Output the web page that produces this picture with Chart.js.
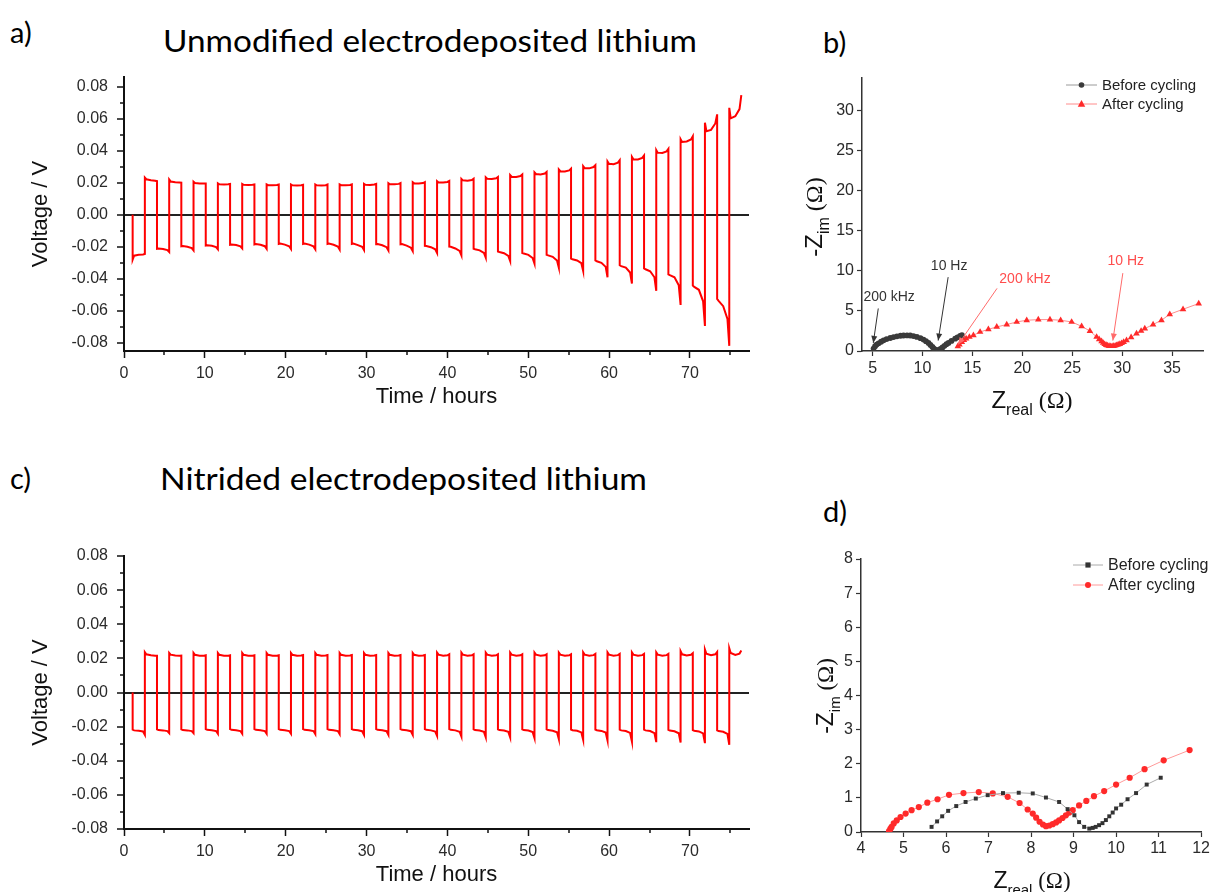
<!DOCTYPE html>
<html>
<head>
<meta charset="utf-8">
<script src="https://cdn.jsdelivr.net/npm/chart.js@4.4.1/dist/chart.umd.min.js"></script>
<style>
html,body{margin:0;padding:0;background:#fff;overflow:hidden;width:1212px;height:892px;}
canvas{position:absolute;}
.lbl{position:absolute;font-family:Lato,'Open Sans',sans-serif;color:#000;white-space:nowrap;transform-origin:0 50%;line-height:1;}
</style>
</head>
<body>
<div class="lbl" style="left:10px;top:17px;font-size:29px;">a)</div>
<div class="lbl" id="ta" style="left:163px;top:25px;font-size:30px;">Unmodified electrodeposited lithium</div>
<div class="lbl" style="left:823px;top:27px;font-size:29px;">b)</div>
<div class="lbl" style="left:10px;top:463px;font-size:29px;">c)</div>
<div class="lbl" id="tc" style="left:160px;top:463px;font-size:30px;">Nitrided electrodeposited lithium</div>
<div class="lbl" style="left:823px;top:496px;font-size:29px;">d)</div>
<canvas id="ca" width="790" height="420" style="left:0;top:0"></canvas>
<canvas id="cb" width="417" height="430" style="left:795px;top:0"></canvas>
<canvas id="cc" width="790" height="422" style="left:0;top:470px"></canvas>
<canvas id="cd" width="417" height="422" style="left:795px;top:470px"></canvas>
<script>
// ---------------- DATA ----------------
// switching times of the galvanostatic half-cycles (hours), last entry = end of record
const switchTimes = [1.07,2.58,4.08,5.59,7.09,8.60,10.11,11.61,13.12,14.62,16.13,17.64,19.14,20.65,22.15,23.66,25.17,26.67,28.18,29.68,31.19,32.70,34.20,35.71,37.21,38.72,40.23,41.73,43.24,44.74,46.25,47.76,49.26,50.77,52.27,53.78,55.29,56.79,58.30,59.80,61.31,62.82,64.32,65.83,67.33,68.84,70.35,71.85,73.36,74.86,76.35];
// voltage read at 0, 12, 50, 85 and 100 % of each half-cycle (V)
const SAMPLE_FRACTIONS = [0, 0.12, 0.5, 0.85, 1.0];
const unmodifiedNeg = [
 [-0.028,-0.0255,-0.025,-0.0248,-0.0245],
 [-0.0212,-0.021,-0.0213,-0.022,-0.0232],
 [-0.0197,-0.0195,-0.0199,-0.0208,-0.0222],
 [-0.0192,-0.019,-0.0193,-0.0201,-0.0215],
 [-0.0187,-0.0185,-0.0189,-0.0197,-0.021],
 [-0.0185,-0.0183,-0.0187,-0.0196,-0.0212],
 [-0.0182,-0.018,-0.0186,-0.0196,-0.0213],
 [-0.0182,-0.018,-0.0186,-0.0197,-0.0215],
 [-0.0182,-0.018,-0.0187,-0.0198,-0.0217],
 [-0.0182,-0.018,-0.0189,-0.02,-0.022],
 [-0.0183,-0.0182,-0.019,-0.0202,-0.0222],
 [-0.0184,-0.0183,-0.0192,-0.0205,-0.0226],
 [-0.0194,-0.0195,-0.0202,-0.0215,-0.0238],
 [-0.0199,-0.02,-0.021,-0.0225,-0.0253],
 [-0.0212,-0.0215,-0.0222,-0.0238,-0.0267],
 [-0.0229,-0.0232,-0.024,-0.0256,-0.0288],
 [-0.0239,-0.0242,-0.025,-0.027,-0.0304],
 [-0.025,-0.0253,-0.0262,-0.0285,-0.033],
 [-0.0273,-0.0278,-0.0285,-0.0302,-0.035],
 [-0.0285,-0.029,-0.03,-0.0325,-0.039],
 [-0.0315,-0.032,-0.033,-0.036,-0.0429],
 [-0.0335,-0.034,-0.0352,-0.039,-0.0474],
 [-0.0372,-0.0377,-0.039,-0.044,-0.0563],
 [-0.0442,-0.045,-0.0468,-0.054,-0.0694],
 [-0.0525,-0.0537,-0.057,-0.065,-0.0818]
];
const unmodifiedPos = [
 [0.0232,0.0222,0.0216,0.0212,0.021],
 [0.022,0.0208,0.0203,0.0201,0.02],
 [0.0206,0.0198,0.0196,0.0195,0.0195],
 [0.0196,0.019,0.0189,0.019,0.0192],
 [0.0192,0.0187,0.0186,0.0188,0.019],
 [0.019,0.0185,0.0184,0.0186,0.0189],
 [0.0189,0.0184,0.0183,0.0185,0.0188],
 [0.0189,0.0184,0.0183,0.0185,0.0189],
 [0.019,0.0185,0.0184,0.0186,0.019],
 [0.0193,0.0187,0.0186,0.0189,0.0193],
 [0.0197,0.019,0.019,0.0193,0.0198],
 [0.0203,0.0196,0.0195,0.0198,0.0204],
 [0.021,0.0202,0.0201,0.0205,0.0211],
 [0.0224,0.0215,0.0213,0.0217,0.0225],
 [0.0234,0.0225,0.0223,0.0228,0.0236],
 [0.0248,0.0238,0.0236,0.0242,0.0252],
 [0.0265,0.0255,0.0252,0.0258,0.0268],
 [0.0283,0.0272,0.027,0.0277,0.0288],
 [0.0304,0.0292,0.029,0.0298,0.031],
 [0.0333,0.0318,0.0316,0.0325,0.034],
 [0.0362,0.0347,0.0345,0.0355,0.037],
 [0.0404,0.0388,0.0386,0.0396,0.0412],
 [0.0472,0.0455,0.0458,0.047,0.049],
 [0.0575,0.0522,0.053,0.057,0.0627],
 [0.0668,0.0602,0.0615,0.066,0.0747]
];
const nitridedNeg = [
 [-0.0218,-0.0222,-0.0224,-0.0228,-0.0248],
 [-0.0216,-0.022,-0.0222,-0.0226,-0.0238],
 [-0.0216,-0.022,-0.0222,-0.0226,-0.0238],
 [-0.0215,-0.0219,-0.0221,-0.0226,-0.0242],
 [-0.0215,-0.0219,-0.0221,-0.0226,-0.0242],
 [-0.0215,-0.0219,-0.0221,-0.0226,-0.0242],
 [-0.0215,-0.0219,-0.0221,-0.0226,-0.0242],
 [-0.0215,-0.0219,-0.0221,-0.0226,-0.0244],
 [-0.0215,-0.0219,-0.0221,-0.0226,-0.0244],
 [-0.0215,-0.0219,-0.0221,-0.0227,-0.0248],
 [-0.0215,-0.0219,-0.0221,-0.0227,-0.0248],
 [-0.0215,-0.0219,-0.0221,-0.0227,-0.0248],
 [-0.0215,-0.0219,-0.0222,-0.0229,-0.0254],
 [-0.0215,-0.0219,-0.0222,-0.023,-0.0258],
 [-0.0216,-0.022,-0.0223,-0.0231,-0.0262],
 [-0.0216,-0.022,-0.0223,-0.0231,-0.0263],
 [-0.0216,-0.022,-0.0223,-0.0232,-0.0267],
 [-0.0216,-0.022,-0.0224,-0.0233,-0.0273],
 [-0.0217,-0.0221,-0.0224,-0.0234,-0.0277],
 [-0.0217,-0.0221,-0.0225,-0.0235,-0.0281],
 [-0.0218,-0.0222,-0.0226,-0.0237,-0.0287],
 [-0.0218,-0.0222,-0.0226,-0.0238,-0.0291],
 [-0.0219,-0.0223,-0.0227,-0.0239,-0.0293],
 [-0.022,-0.0224,-0.0228,-0.024,-0.0297],
 [-0.0222,-0.0226,-0.023,-0.0243,-0.0306]
];
const nitridedPos = [
 [0.0236,0.0224,0.0218,0.0216,0.0216],
 [0.0232,0.0222,0.0217,0.0216,0.0217],
 [0.0232,0.0221,0.0216,0.0216,0.0218],
 [0.0232,0.0221,0.0216,0.0216,0.0218],
 [0.0232,0.0221,0.0216,0.0216,0.0218],
 [0.0232,0.0221,0.0216,0.0216,0.0218],
 [0.0232,0.0221,0.0216,0.0217,0.022],
 [0.0232,0.0221,0.0216,0.0217,0.022],
 [0.0232,0.0221,0.0216,0.0217,0.022],
 [0.0232,0.0221,0.0216,0.0217,0.022],
 [0.0232,0.0221,0.0216,0.0217,0.022],
 [0.0232,0.0221,0.0216,0.0217,0.022],
 [0.0234,0.0222,0.0216,0.0218,0.0224],
 [0.0234,0.0222,0.0216,0.0218,0.0224],
 [0.0234,0.0222,0.0216,0.0218,0.0224],
 [0.0234,0.0222,0.0216,0.0218,0.0224],
 [0.0234,0.0222,0.0216,0.0218,0.0224],
 [0.0234,0.0222,0.0216,0.0218,0.0224],
 [0.0235,0.0222,0.0216,0.0219,0.0226],
 [0.0235,0.0222,0.0216,0.0219,0.0226],
 [0.0235,0.0222,0.0216,0.0219,0.0226],
 [0.0235,0.0222,0.0216,0.0219,0.0226],
 [0.0242,0.0224,0.0217,0.0221,0.023],
 [0.0252,0.0227,0.0218,0.0224,0.0238],
 [0.026,0.0232,0.022,0.0228,0.0246]
];
// EIS, unmodified (panel b)
const bBeforeRe = [5.1,5.25,5.4,5.6,5.85,6.1,6.4,6.77,7.1,7.44,7.8,8.1,8.45,8.77,9.1,9.44,9.8,10.1,10.35,10.6,10.8,11.0,11.15,11.3,11.45,11.6,11.8,12.0,12.2,12.4,12.6,12.9,13.27,13.5,13.77,13.95];
const bBeforeIm = [0.3,0.6,0.8,0.95,1.15,1.33,1.48,1.62,1.73,1.83,1.9,1.93,1.94,1.93,1.86,1.75,1.6,1.42,1.22,1.0,0.75,0.5,0.3,0.15,0.1,0.12,0.25,0.45,0.65,0.85,1.0,1.25,1.54,1.7,1.87,1.97];
const bAfterRe = [13.54,13.7,13.94,14.15,14.37,14.7,15.1,15.77,16.6,17.44,18.44,19.44,20.44,21.6,22.77,23.84,24.94,25.94,26.77,27.44,27.7,27.94,28.1,28.25,28.4,28.55,28.7,28.85,29.0,29.15,29.3,29.45,29.6,29.77,29.95,30.15,30.44,30.9,31.44,31.9,32.27,33.1,33.94,34.77,36.1,37.67];
const bAfterIm = [0.59,0.8,1.12,1.35,1.54,1.75,1.96,2.37,2.7,3.0,3.29,3.62,3.83,3.91,3.91,3.83,3.62,3.08,2.49,1.75,1.45,1.2,1.0,0.85,0.75,0.67,0.62,0.6,0.6,0.62,0.66,0.72,0.79,0.87,0.97,1.1,1.33,1.7,2.17,2.5,2.79,3.3,3.83,4.58,5.2,5.91];
// EIS, nitrided (panel d)
const dBeforeRe = [5.66,5.79,5.91,6.05,6.24,6.46,6.70,6.98,7.34,7.71,8.04,8.35,8.66,8.86,9.02,9.13,9.25,9.37,9.45,9.52,9.6,9.68,9.76,9.84,9.92,10.0,10.12,10.27,10.47,10.72,11.05];
const dBeforeIm = [0.15,0.31,0.46,0.62,0.76,0.88,0.98,1.08,1.14,1.15,1.13,1.01,0.88,0.67,0.49,0.29,0.15,0.10,0.12,0.15,0.2,0.26,0.35,0.46,0.57,0.69,0.8,0.96,1.14,1.39,1.59];
const dAfterRe = [4.66,4.69,4.72,4.77,4.84,4.93,5.05,5.19,5.36,5.56,5.80,6.07,6.41,6.77,7.10,7.45,7.73,7.92,8.04,8.12,8.2,8.28,8.35,8.43,8.51,8.59,8.66,8.74,8.82,8.9,8.98,9.13,9.30,9.48,9.72,10.0,10.32,10.67,11.12,11.73];
const dAfterIm = [0.03,0.09,0.15,0.25,0.34,0.44,0.54,0.64,0.73,0.86,0.96,1.09,1.14,1.17,1.13,1.03,0.85,0.66,0.54,0.42,0.3,0.22,0.17,0.19,0.23,0.28,0.34,0.41,0.49,0.57,0.64,0.78,0.91,1.05,1.20,1.39,1.59,1.84,2.10,2.40];
// ticks
const timeTicks = [0,10,20,30,40,50,60,70];
const timeMinorTicks = [5,15,25,35,45,55,65,75];
const voltTicks = [-0.08,-0.06,-0.04,-0.02,0,0.02,0.04,0.06,0.08];
const voltTickLabels = ['-0.08','-0.06','-0.04','-0.02','0.00','0.02','0.04','0.06','0.08'];
const voltMinorTicks = [-0.07,-0.05,-0.03,-0.01,0.01,0.03,0.05,0.07];
const bReTicks = [5,10,15,20,25,30,35];
const bImTicks = [0,5,10,15,20,25,30];
const dReTicks = [4,5,6,7,8,9,10,11,12];
const dImTicks = [0,1,2,3,4,5,6,7,8];
const seriesNames = ['Before cycling','After cycling'];
const freqLabels = ['200 kHz','10 Hz'];

// ---------------- HELPERS ----------------
const SANS = "'Liberation Sans', Arial, sans-serif";
const SERIF = "'Liberation Serif', 'Times New Roman', serif";
Chart.defaults.font.family = SANS;

function buildWave(times, neg, pos) {
  const pts = [{x: times[0], y: 0}];
  for (let k = 0; k < times.length - 1; k++) {
    const lv = (k % 2 === 0) ? neg[k / 2] : pos[(k - 1) / 2];
    const t0 = times[k], dt = times[k + 1] - t0;
    lv.forEach((v, i) => pts.push({x: t0 + SAMPLE_FRACTIONS[i] * dt, y: v}));
  }
  return pts;
}
function zip(xs, ys) { return xs.map((x, i) => ({x: x, y: ys[i]})); }

function drawRich(ctx, parts, x, y, rotate) {
  ctx.save();
  ctx.translate(x, y);
  if (rotate) ctx.rotate(-Math.PI / 2);
  ctx.textAlign = 'left'; ctx.textBaseline = 'alphabetic';
  let total = 0;
  parts.forEach(p => { ctx.font = p.font; total += ctx.measureText(p.text).width; });
  let cx = -total / 2;
  parts.forEach(p => { ctx.font = p.font; ctx.fillStyle = p.color || '#111'; ctx.fillText(p.text, cx, p.dy || 0); cx += ctx.measureText(p.text).width; });
  ctx.restore();
}
function drawMarker(ctx, style, x, y, r, color) {
  ctx.save(); ctx.fillStyle = color; ctx.beginPath();
  if (style === 'rect') { ctx.rect(x - r, y - r, 2 * r, 2 * r); }
  else if (style === 'triangle') { ctx.moveTo(x, y - r * 1.2); ctx.lineTo(x + r * 1.1, y + r * 0.8); ctx.lineTo(x - r * 1.1, y + r * 0.8); ctx.closePath(); }
  else { ctx.arc(x, y, r, 0, Math.PI * 2); }
  ctx.fill(); ctx.restore();
}

function makeExtras(cfg) {
  return {
    id: 'extras',
    afterDraw(chart) {
      const ctx = chart.ctx, a = chart.chartArea, xs = chart.scales.x, ys = chart.scales.y;
      ctx.save();
      ctx.strokeStyle = cfg.tickColor || '#111'; ctx.lineWidth = 1.5;
      (cfg.minorX || []).forEach(v => { const p = Math.round(xs.getPixelForValue(v)); ctx.beginPath(); ctx.moveTo(p, a.bottom); ctx.lineTo(p, a.bottom + cfg.minorLen); ctx.stroke(); });
      (cfg.minorY || []).forEach(v => { const p = Math.round(ys.getPixelForValue(v)); ctx.beginPath(); ctx.moveTo(a.left, p); ctx.lineTo(a.left - cfg.minorLen, p); ctx.stroke(); });
      (cfg.arrows || []).forEach(ar => {
        const x1 = xs.getPixelForValue(ar.from[0]), y1 = ys.getPixelForValue(ar.from[1]);
        const x2 = xs.getPixelForValue(ar.to[0]), y2 = ys.getPixelForValue(ar.to[1]);
        ctx.strokeStyle = ar.color; ctx.fillStyle = ar.color; ctx.lineWidth = 1;
        ctx.beginPath(); ctx.moveTo(x1, y1); ctx.lineTo(x2, y2); ctx.stroke();
        const ang = Math.atan2(y2 - y1, x2 - x1), L = 7, W = 3;
        ctx.beginPath(); ctx.moveTo(x2, y2);
        ctx.lineTo(x2 - L * Math.cos(ang) + W * Math.sin(ang), y2 - L * Math.sin(ang) - W * Math.cos(ang));
        ctx.lineTo(x2 - L * Math.cos(ang) - W * Math.sin(ang), y2 - L * Math.sin(ang) + W * Math.cos(ang));
        ctx.closePath(); ctx.fill();
      });
      (cfg.texts || []).forEach(t => {
        ctx.font = t.font; ctx.fillStyle = t.color; ctx.textAlign = 'center'; ctx.textBaseline = 'middle';
        ctx.fillText(t.text, xs.getPixelForValue(t.at[0]), ys.getPixelForValue(t.at[1]));
      });
      (cfg.legend || []).forEach(l => {
        ctx.strokeStyle = l.lineColor; ctx.lineWidth = 1;
        ctx.beginPath(); ctx.moveTo(l.x0, l.y); ctx.lineTo(l.x1, l.y); ctx.stroke();
        drawMarker(ctx, l.marker, (l.x0 + l.x1) / 2, l.y, l.r, l.markerColor);
        ctx.font = l.font; ctx.fillStyle = '#222'; ctx.textAlign = 'left'; ctx.textBaseline = 'middle';
        ctx.fillText(l.text, l.x1 + 5, l.y + 1);
      });
      (cfg.rich || []).forEach(r => drawRich(ctx, r.parts, r.x, r.y, r.rotate));
      ctx.restore();
    }
  };
}

function voltChart(id, data, yMin, yMax, padTop, xH, titlePadB) {
  return new Chart(document.getElementById(id), {
    type: 'scatter',
    data: { datasets: [{ data: data, showLine: true, borderColor: '#ff0000', borderWidth: 2, pointRadius: 0, tension: 0, fill: false }] },
    options: {
      responsive: false, animation: false, events: [],
      layout: { padding: { top: padTop, right: 41, left: 0, bottom: 0 } },
      plugins: { legend: { display: false }, tooltip: { enabled: false } },
      scales: {
        x: {
          type: 'linear', min: 0, max: 77.3,
          afterBuildTicks: s => { s.ticks = timeTicks.map(v => ({ value: v })); },
          afterFit: s => { s.height = xH; },
          border: { color: '#111', width: 2 },
          grid: { drawOnChartArea: false, tickLength: 7, tickColor: '#111', tickWidth: 1.5 },
          ticks: { autoSkip: false, maxRotation: 0, padding: 6, color: '#2a2a2a', font: { size: 16 }, callback: (v, i) => String(timeTicks[i]) },
          title: { display: true, text: 'Time / hours', color: '#111', font: { size: 22 }, padding: { top: 0, bottom: titlePadB } }
        },
        y: {
          type: 'linear', min: yMin, max: yMax,
          afterBuildTicks: s => { s.ticks = voltTicks.map(v => ({ value: v })); },
          afterFit: s => { s.width = 124; },
          border: { color: '#111', width: 2 },
          grid: { drawOnChartArea: true, color: c => (c.tick && Math.abs(c.tick.value) < 1e-9) ? '#222' : 'rgba(0,0,0,0)', lineWidth: 2, tickLength: 7, tickColor: '#111', tickWidth: 1.5 },
          ticks: { autoSkip: false, padding: 9, color: '#2a2a2a', font: { size: 16 }, callback: (v, i) => voltTickLabels[i] },
          title: { display: true, text: 'Voltage / V', color: '#111', font: { size: 22 }, padding: { top: 28, bottom: 0 } }
        }
      }
    },
    plugins: [makeExtras({ minorX: timeMinorTicks, minorY: voltMinorTicks, minorLen: 4 })]
  });
}

voltChart('ca', buildWave(switchTimes, unmodifiedNeg, unmodifiedPos), -0.085, 0.086, 77, 69, 10);
voltChart('cc', buildWave(switchTimes, nitridedNeg, nitridedPos), -0.08, 0.08, 86, 63, 4);

function eisChart(id, cfg) {
  return new Chart(document.getElementById(id), {
    type: 'scatter',
    data: { datasets: cfg.datasets },
    options: {
      responsive: false, animation: false, events: [],
      layout: { padding: { top: cfg.padTop, right: cfg.padRight, left: 0, bottom: 0 } },
      plugins: { legend: { display: false }, tooltip: { enabled: false } },
      scales: {
        x: {
          type: 'linear', min: cfg.xMin, max: cfg.xMax,
          afterBuildTicks: s => { s.ticks = cfg.xTicks.map(v => ({ value: v })); },
          afterFit: s => { s.height = cfg.xH; },
          border: { color: '#333', width: 1.5 },
          grid: { drawOnChartArea: false, tickLength: 5, tickColor: '#333', tickWidth: 1.2 },
          ticks: { autoSkip: false, maxRotation: 0, padding: cfg.xPad, color: '#2a2a2a', font: { size: 16 }, callback: (v, i) => String(cfg.xTicks[i]) }
        },
        y: {
          type: 'linear', min: cfg.yMin, max: cfg.yMax,
          afterBuildTicks: s => { s.ticks = cfg.yTicks.map(v => ({ value: v })); },
          afterFit: s => { s.width = cfg.yW; },
          border: { color: '#333', width: 1.5 },
          grid: { drawOnChartArea: false, tickLength: 5, tickColor: '#333', tickWidth: 1.2 },
          ticks: { autoSkip: false, padding: 3, color: '#2a2a2a', font: { size: 16 }, callback: (v, i) => String(cfg.yTicks[i]) }
        }
      }
    },
    plugins: [makeExtras(cfg.extras)]
  });
}

function zTitles(xc, xBase, yRotX, yc, fs) {
  const sub = Math.round(fs * 0.66);
  return [
    { parts: [{ text: 'Z', font: fs + 'px ' + SANS }, { text: 'real', font: sub + 'px ' + SANS, dy: 7 }, { text: ' (Ω)', font: fs + 'px ' + SERIF }], x: xc, y: xBase, rotate: false },
    { parts: [{ text: '-Z', font: fs + 'px ' + SANS }, { text: 'im', font: sub + 'px ' + SANS, dy: 7 }, { text: ' (Ω)', font: fs + 'px ' + SERIF }], x: yRotX, y: yc, rotate: true }
  ];
}

eisChart('cb', {
  padTop: 78, padRight: 9, xH: 79, yW: 67, xPad: 3,
  xMin: 3.94, xMax: 38.1, yMin: 0, yMax: 34, xTicks: bReTicks, yTicks: bImTicks,
  datasets: [
    { label: seriesNames[0], data: zip(bBeforeRe, bBeforeIm), showLine: true, borderColor: '#9a9a9a', borderWidth: 1, pointStyle: 'circle', pointRadius: 2.9, pointBackgroundColor: '#3a3a3a', pointBorderWidth: 0 },
    { label: seriesNames[1], data: zip(bAfterRe, bAfterIm), showLine: true, borderColor: '#ff8c8c', borderWidth: 1, pointStyle: 'triangle', pointRadius: 3.8, pointBackgroundColor: '#ff2a2a', pointBorderWidth: 0 }
  ],
  extras: {
    arrows: [
      { from: [5.57, 5.3], to: [5.07, 1.0], color: '#333' },
      { from: [12.57, 9.2], to: [11.57, 1.3], color: '#333' },
      { from: [17.47, 7.8], to: [13.57, 0.8], color: '#ff6b6b' },
      { from: [30.07, 9.7], to: [29.07, 1.3], color: '#ff6b6b' }
    ],
    texts: [
      { text: freqLabels[0], at: [6.66, 6.7], color: '#333', font: '14px ' + SANS },
      { text: freqLabels[1], at: [12.67, 10.6], color: '#333', font: '14px ' + SANS },
      { text: freqLabels[0], at: [20.27, 8.9], color: '#ff4d4d', font: '14px ' + SANS },
      { text: freqLabels[1], at: [30.37, 11.2], color: '#ff4d4d', font: '14px ' + SANS }
    ],
    legend: [
      { x0: 271, x1: 302, y: 85, lineColor: '#9a9a9a', marker: 'circle', r: 2.8, markerColor: '#3a3a3a', text: seriesNames[0], font: '15px ' + SANS },
      { x0: 271, x1: 302, y: 104, lineColor: '#ff8c8c', marker: 'triangle', r: 3.4, markerColor: '#ff2a2a', text: seriesNames[1], font: '15px ' + SANS }
    ],
    rich: zTitles(237, 408, 27, 217, 24)
  }
});

eisChart('cd', {
  padTop: 89, padRight: 10, xH: 60, yW: 66, xPad: 2,
  xMin: 4, xMax: 12, yMin: 0, yMax: 8, xTicks: dReTicks, yTicks: dImTicks,
  datasets: [
    { label: seriesNames[0], data: zip(dBeforeRe, dBeforeIm), showLine: true, borderColor: '#aaaaaa', borderWidth: 1, pointStyle: 'rect', pointRadius: 2.8, pointBackgroundColor: '#333', pointBorderWidth: 0 },
    { label: seriesNames[1], data: zip(dAfterRe, dAfterIm), showLine: true, borderColor: '#ff9a9a', borderWidth: 1, pointStyle: 'circle', pointRadius: 3.1, pointBackgroundColor: '#ff2a2a', pointBorderWidth: 0 }
  ],
  extras: {
    legend: [
      { x0: 278, x1: 308, y: 95, lineColor: '#aaaaaa', marker: 'rect', r: 2.6, markerColor: '#333', text: seriesNames[0], font: '16px ' + SANS },
      { x0: 278, x1: 308, y: 115, lineColor: '#ff9a9a', marker: 'circle', r: 3, markerColor: '#ff2a2a', text: seriesNames[1], font: '16px ' + SANS }
    ],
    rich: zTitles(237, 418, 38, 226, 23)
  }
});

// fit the panel titles to the widths they occupy in the figure
function fitWidth(id, w) { const el = document.getElementById(id); const cur = el.getBoundingClientRect().width; el.style.transform = 'scaleX(' + (w / cur) + ')'; }
fitWidth('ta', 534); fitWidth('tc', 487);
</script>
</body>
</html>
